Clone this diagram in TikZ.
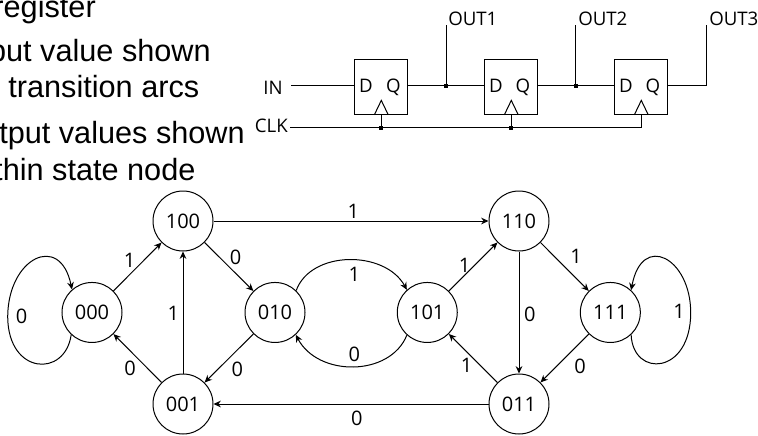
\documentclass[tikz,border=0pt]{standalone}
\usepackage{fontspec}
\setmainfont{Open Sans}
\newfontfamily\slidefont{Liberation Sans}
\usepackage{tikz}
\usetikzlibrary{arrows.meta,positioning}

\begin{document}
\begin{tikzpicture}[
  x=0.75pt, y=-0.75pt,
  on grid,
  slide/.style={anchor=base east, inner sep=0pt, font=\slidefont\fontsize{23pt}{27pt}\selectfont},
  stat/.style={circle, draw, line width=0.75pt, minimum size=45pt, inner sep=0pt, font=\fontsize{15pt}{18pt}\selectfont},
  lbl/.style={inner sep=0pt, font=\fontsize{15pt}{18pt}\selectfont},
  pin/.style={inner sep=0pt, font=\fontsize{14pt}{17pt}\selectfont},
  ff/.style={rectangle, draw, line width=0.75pt, minimum width=39.5pt, minimum height=41.25pt, inner sep=0pt},
  clkmark/.style={line width=0.75pt, line join=miter},
  wire/.style={line width=0.75pt},
  dot/.style={rectangle, fill=black, inner sep=0pt, minimum size=3.2pt},
  arr/.style={-{Stealth[length=5.5pt,width=5pt]}, line width=0.75pt},
]
  \useasboundingbox (0,0) rectangle (758,436);

  % Slide text
  \node[slide] (t1) at (96,17) {register};
  \node[slide] (t2) at (211,61) {put value shown};
  \node[slide] (t3) at (199.5,97) {transition arcs};
  \node[slide] (t4) at (245,143) {tput values shown};
  \node[slide] (t5) at (195.7,180) {thin state node};

  % Flip-flops
  \node[ff] (ff1) at (381.3,86.8) {};
  \node[ff, right=97.5pt of ff1] (ff2) {};
  \node[ff, right=97.5pt of ff2] (ff3) {};

  \node[pin, anchor=base] (d1) at (366,92.3) {D};
  \node[pin, anchor=base] (q1) at (393.3,92.3) {Q};
  \node[pin, anchor=base] (d2) at (496,92.3) {D};
  \node[pin, anchor=base] (q2) at (523,92.3) {Q};
  \node[pin, anchor=base] (d3) at (626,92.3) {D};
  \node[pin, anchor=base] (q3) at (653,92.3) {Q};

  % Clock marks
  \draw[clkmark] (ff1.south) ++(-5.2pt,0) -- ++(5.2pt,10.8pt) -- ++(5.2pt,-10.8pt);
  \draw[clkmark] (ff2.south) ++(-5.2pt,0) -- ++(5.2pt,10.8pt) -- ++(5.2pt,-10.8pt);
  \draw[clkmark] (ff3.south) ++(-5.2pt,0) -- ++(5.2pt,10.8pt) -- ++(5.2pt,-10.8pt);

  % Inputs and outputs
  \node[pin, anchor=base east] (in) at (283,94.5) {IN};
  \node[pin, anchor=base east] (clk) at (288,132.5) {CLK};
  \coordinate (inend) at (291,85.7);
  \coordinate (clkend) at (290,127.7);
  \coordinate (out1top) at (446,25);
  \coordinate (out2top) at (575.7,25);
  \coordinate (out3top) at (706.3,25);
  \node[pin, anchor=base west] (out1) at (448,25) {OUT1};
  \node[pin, anchor=base west] (out2) at (578,25) {OUT2};
  \node[pin, anchor=base west] (out3) at (709,25) {OUT3};

  % Wires
  \draw[wire] (inend) -- (ff1.west |- inend);
  \draw[wire] (ff1.east |- inend) -- (ff2.west |- inend);
  \draw[wire] (ff2.east |- inend) -- (ff3.west |- inend);
  \draw[wire] (ff3.east |- inend) -| (out3top);
  \draw[wire] (out1top) -- (out1top |- inend);
  \draw[wire] (out2top) -- (out2top |- inend);
  \draw[wire] (clkend) -- (ff3.south |- clkend) -- (ff3.south);
  \draw[wire] (ff1.south) -- (ff1.south |- clkend);
  \draw[wire] (ff2.south) -- (ff2.south |- clkend);
  \node[dot] (j1) at (out1top |- inend) {};
  \node[dot] (j2) at (out2top |- inend) {};
  \node[dot] (j3) at (ff1.south |- clkend) {};
  \node[dot] (j4) at (ff2.south |- clkend) {};

  % States
  \node[stat] (s100) at (183,221) {100};
  \node[stat, below=137.25pt of s100] (s001) {001};
  \node[stat, below left=68.6pt and 68.25pt of s100] (s000) {000};
  \node[stat, below right=68.6pt and 69pt of s100] (s010) {010};
  \node[stat, right=252pt of s100] (s110) {110};
  \node[stat, below=137.25pt of s110] (s011) {011};
  \node[stat, below left=68.6pt and 68.8pt of s110] (s101) {101};
  \node[stat, below right=68.6pt and 68.5pt of s110] (s111) {111};

  % Transitions
  \draw[arr] (s000) -- node[lbl, xshift=-6pt, yshift=5pt] (e1) {1} (s100);
  \draw[arr] (s100) -- node[lbl, xshift=5pt, yshift=7pt] (e2) {0} (s010);
  \draw[arr] (s010) -- node[lbl, xshift=6.2pt, yshift=-8.6pt] (e3) {0} (s001);
  \draw[arr] (s001) -- node[lbl, xshift=-5.6pt, yshift=-7.4pt] (e4) {0} (s000);
  \draw[arr] (s001) -- node[lbl, xshift=-7.3pt, yshift=-1pt] (e5) {1} (s100);
  \draw[arr] (s100) -- node[lbl, xshift=1.7pt, yshift=7.5pt] (e6) {1} (s110);
  \draw[arr] (s011) -- node[lbl, xshift=4.3pt, yshift=-10.7pt] (e7) {0} (s001);
  \draw[arr] (s101) -- node[lbl, xshift=-6.5pt, yshift=0.8pt] (e8) {1} (s110);
  \draw[arr] (s110) -- node[lbl, xshift=8.5pt, yshift=7.7pt] (e9) {1} (s111);
  \draw[arr] (s110) -- node[lbl, xshift=8.2pt, yshift=-1.4pt] (e10) {0} (s011);
  \draw[arr] (s111) -- node[lbl, xshift=11.5pt, yshift=-6.2pt] (e11) {0} (s011);
  \draw[arr] (s011) -- node[lbl, xshift=-5pt, yshift=-5.6pt] (e12) {1} (s101);

  % Curved arcs and loops
  \coordinate (loopl) at (7.7,316.7);
  \coordinate (loopr) at (690.7,312.7);
  \draw[arr] (s000.227) .. controls (65,378) and (8,375) .. (loopl) .. controls (8,258) and (60,232) .. (s000.131);
  \draw[arr] (s111.313) .. controls (633,378) and (690.7,375) .. (loopr) .. controls (690.7,258) and (642,232) .. (s111.47);
  \draw[arr] (s010.46) .. controls (311,250) and (385,250) .. (s101.132);
  \draw[arr] (s101.228) .. controls (390,377) and (318,377) .. (s010.313);
  \node[lbl] (e13) at (21.7,316) {0};
  \node[lbl] (e14) at (679,311) {1};
  \node[lbl] (e15) at (354.3,274) {1};
  \node[lbl] (e16) at (354.3,354) {0};
\end{tikzpicture}
\end{document}
